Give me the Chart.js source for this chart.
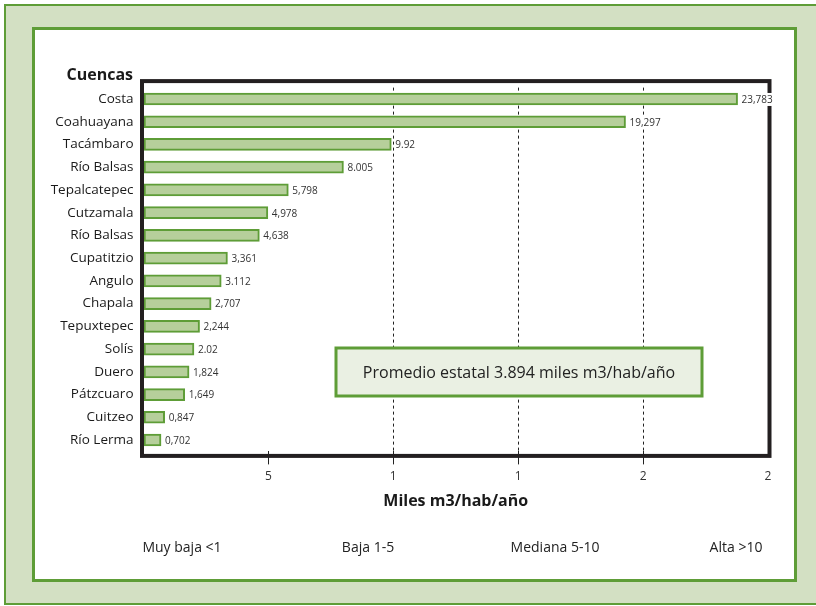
<!DOCTYPE html>
<html>
<head>
<meta charset="utf-8">
<script src="https://cdn.jsdelivr.net/npm/chart.js@4"></script>
<style>
  body { margin:0; width:816px; height:606px; overflow:hidden; background:#fff; position:relative; }
  .outer { position:absolute; left:4px; top:4px; width:900px; height:601px; box-sizing:border-box;
           background:#d3e0c3; border:2px solid #5e9d37; }
  .inner { position:absolute; left:32px; top:27px; width:765px; height:555px; box-sizing:border-box;
           background:#fff; border:3px solid #5e9d37; }
  #chart { position:absolute; left:0; top:0; }
</style>
</head>
<body>
<div class="outer"></div>
<div class="inner"></div>
<canvas id="chart" width="816" height="606"></canvas>
<script>
var cuencas = ["Costa", "Coahuayana", "Tacámbaro", "Río Balsas", "Tepalcatepec", "Cutzamala",
  "Río Balsas", "Cupatitzio", "Angulo", "Chapala", "Tepuxtepec", "Solís", "Duero",
  "Pátzcuaro", "Cuitzeo", "Río Lerma"];
var valores = [23.783, 19.297, 9.92, 8.005, 5.798, 4.978, 4.638, 3.361, 3.112, 2.707,
  2.244, 2.02, 1.824, 1.649, 0.847, 0.702];
// etiquetas tal como aparecen impresas
var etiquetas = ["23,783", "19,297", "9.92", "8.005", "5,798", "4,978", "4,638", "3,361",
  "3.112", "2,707", "2,244", "2.02", "1,824", "1,649", "0,847", "0,702"];
var ticksX = [0, 5, 10, 15, 20, 25];
var ticksXTexto = ["", "5", "1", "1", "2", "2"];
var lineasGuia = [10, 15, 20];
var rangos = ["Muy baja <1", "Baja 1-5", "Mediana 5-10", "Alta >10"];
var promedio = "Promedio estatal 3.894 miles m3/hab/año";

var FONT = "'Open Sans', 'DejaVu Sans', sans-serif";
var VERDE = "#5e9d37";

var extras = {
  id: "extras",
  afterDraw: function(chart) {
    var ctx = chart.ctx, a = chart.chartArea;
    ctx.save();
    // marco negro
    ctx.strokeStyle = "#231f20";
    ctx.lineWidth = 4;
    ctx.strokeRect(a.left - 1.5, a.top - 6.5, a.right - a.left + 3, a.bottom - a.top + 11);

    // valores al final de cada barra (con fondo blanco, tapan marco y guias)
    var meta = chart.getDatasetMeta(0);
    ctx.font = "10px " + FONT;
    ctx.textBaseline = "middle";
    ctx.textAlign = "left";
    meta.data.forEach(function(bar, i) {
      var w = ctx.measureText(etiquetas[i]).width;
      ctx.fillStyle = "#fff";
      ctx.fillRect(bar.x + 3, bar.y - 6, w + 2, 13);
      ctx.fillStyle = "#333";
      ctx.fillText(etiquetas[i], bar.x + 4, bar.y + 1);
    });

    // titulo del eje y
    ctx.fillStyle = "#1a1a1a";
    ctx.font = "bold 16px " + FONT;
    ctx.textAlign = "right";
    ctx.fillText("Cuencas", 133, 75);

    // recuadro promedio
    ctx.fillStyle = "#eaf0e3";
    ctx.fillRect(336, 348, 366, 48);
    ctx.strokeStyle = VERDE;
    ctx.lineWidth = 3;
    ctx.strokeRect(336, 348, 366, 48);
    ctx.fillStyle = "#222";
    ctx.font = "16px " + FONT;
    ctx.textAlign = "center";
    ctx.fillText(promedio, 519, 373);

    // rangos abajo
    ctx.font = "14px " + FONT;
    ctx.fillStyle = "#222";
    var xs = [182, 368, 555, 736];
    rangos.forEach(function(t, i) { ctx.fillText(t, xs[i], 548); });
    ctx.restore();
  }
};

new Chart(document.getElementById("chart"), {
  type: "bar",
  data: {
    labels: cuencas,
    datasets: [{
      data: valores,
      backgroundColor: "#b6cf9b",
      borderColor: VERDE,
      borderWidth: 2,
      borderSkipped: false,
      barThickness: 12
    }]
  },
  options: {
    indexAxis: "y",
    responsive: false,
    animation: false,
    events: [],
    layout: { padding: { left: 0, top: 87.6, right: 48, bottom: 94.6 } },
    plugins: { legend: { display: false }, tooltip: { enabled: false } },
    scales: {
      x: {
        type: "linear",
        min: 0, max: 25,
        afterBuildTicks: function(s) { s.ticks = ticksX.map(function(v) { return { value: v }; }); },
        afterFit: function(s) { s.height = 60; },
        border: { display: false, dash: [3, 3] },
        grid: {
          drawTicks: true,
          tickLength: 13,
          lineWidth: 1,
          color: function(c) { return lineasGuia.indexOf(c.tick.value) >= 0 ? "#222" : "rgba(0,0,0,0)"; },
          tickColor: function(c) { return (c.tick.value === 0 || c.tick.value === 25) ? "rgba(0,0,0,0)" : "#222"; }
        },
        ticks: {
          padding: 5,
          color: "#333",
          font: { family: FONT, size: 12 },
          maxRotation: 0,
          callback: function(v) { return ticksXTexto[ticksX.indexOf(v)]; }
        },
        title: {
          display: true,
          text: "Miles m3/hab/año",
          color: "#1a1a1a",
          font: { family: FONT, size: 16, weight: "bold" },
          padding: { top: 7, bottom: 0 }
        }
      },
      y: {
        afterFit: function(s) { s.width = 143.5; },
        border: { display: false },
        grid: { display: false, drawTicks: false },
        ticks: {
          padding: 10,
          color: "#1a1a1a",
          font: { family: FONT, size: 13.5 },
          autoSkip: false
        }
      }
    }
  },
  plugins: [extras]
});
</script>
</body>
</html>
